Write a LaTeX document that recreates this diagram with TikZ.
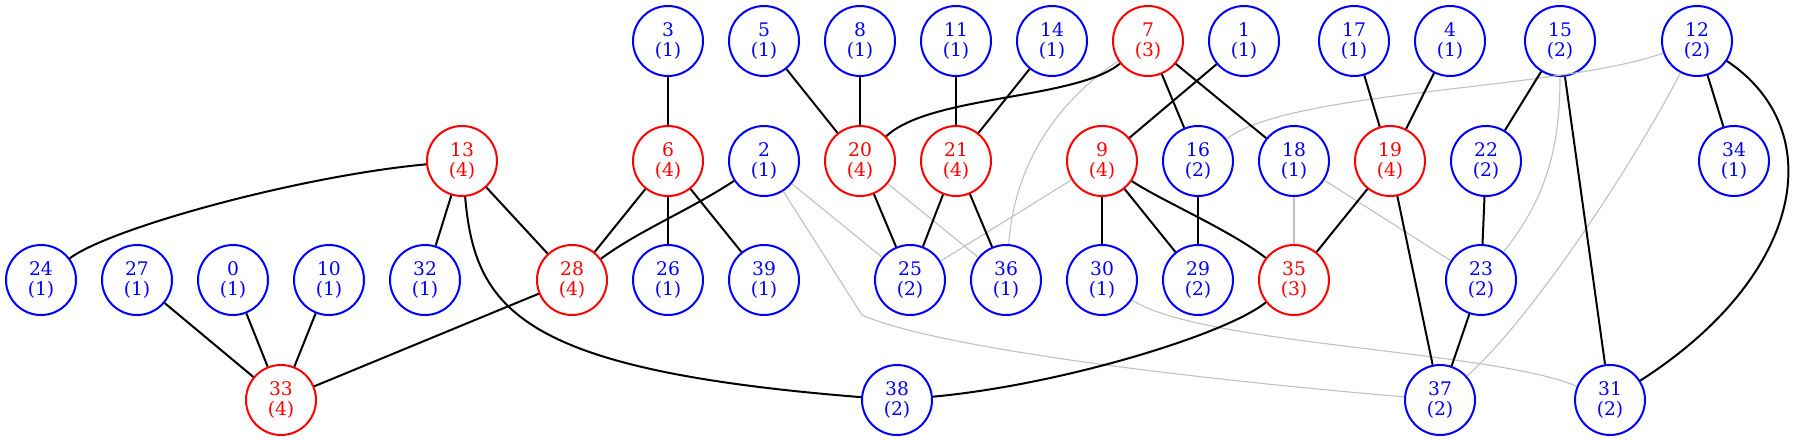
\documentclass[tikz,border=0pt]{standalone}
\usepackage{fontspec}
\setmainfont{DejaVu Serif}
\definecolor{gvblue}{RGB}{0,0,255}
\definecolor{gvred}{RGB}{255,0,0}
\definecolor{gvgray}{RGB}{192,192,192}
\begin{document}
\begin{tikzpicture}[x=1pt, y=-1pt,
  vb/.style={circle, draw=gvblue, line width=2pt, text=gvblue, minimum size=70pt,
             inner sep=0pt, align=center, font=\fontsize{18.7}{20}\selectfont},
  vr/.style={vb, draw=gvred, text=gvred},
  ln/.style={line width=2pt, black},
  lg/.style={line width=1.1pt, gvgray}]
\useasboundingbox (0,0) rectangle (1797,441);

\node[vb] (v3) at (668,41) {3\\(1)};
\node[vb] (v5) at (764,41) {5\\(1)};
\node[vb] (v8) at (860,41) {8\\(1)};
\node[vb] (v11) at (956,41) {11\\(1)};
\node[vb] (v14) at (1052,41) {14\\(1)};
\node[vr] (v7) at (1148,41) {7\\(3)};
\node[vb] (v1) at (1244,41) {1\\(1)};
\node[vb] (v17) at (1354,41) {17\\(1)};
\node[vb] (v4) at (1450,41) {4\\(1)};
\node[vb] (v15) at (1560,41) {15\\(2)};
\node[vb] (v12) at (1697,41) {12\\(2)};

\node[vr] (v13) at (462,161) {13\\(4)};
\node[vr] (v6) at (668,161) {6\\(4)};
\node[vb] (v2) at (764,161) {2\\(1)};
\node[vr] (v20) at (860,161) {20\\(4)};
\node[vr] (v21) at (956,161) {21\\(4)};
\node[vr] (v9) at (1102,161) {9\\(4)};
\node[vb] (v16) at (1198,161) {16\\(2)};
\node[vb] (v18) at (1294,161) {18\\(1)};
\node[vr] (v19) at (1390,161) {19\\(4)};
\node[vb] (v22) at (1486,161) {22\\(2)};
\node[vb] (v34) at (1734,161) {34\\(1)};

\node[vb] (v24) at (41,280) {24\\(1)};
\node[vb] (v27) at (137,280) {27\\(1)};
\node[vb] (v0) at (233,280) {0\\(1)};
\node[vb] (v10) at (329,280) {10\\(1)};
\node[vb] (v32) at (425,280) {32\\(1)};
\node[vr] (v28) at (572,280) {28\\(4)};
\node[vb] (v26) at (668,280) {26\\(1)};
\node[vb] (v39) at (764,280) {39\\(1)};
\node[vb] (v25) at (910,280) {25\\(2)};
\node[vb] (v36) at (1006,280) {36\\(1)};
\node[vb] (v30) at (1102,280) {30\\(1)};
\node[vb] (v29) at (1198,280) {29\\(2)};
\node[vr] (v35) at (1294,280) {35\\(3)};
\node[vb] (v23) at (1481,280) {23\\(2)};

\node[vr] (v33) at (281,400) {33\\(4)};
\node[vb] (v38) at (897,400) {38\\(2)};
\node[vb] (v37) at (1440,400) {37\\(2)};
\node[vb] (v31) at (1610,400) {31\\(2)};

\coordinate (b2) at (862,315);

\draw[lg] (v2) -- (v25);
\draw[lg] (v2) -- (b2) .. controls (930,345) and (1150,375) .. (v37);
\draw[lg] (v20) -- (v36);
\draw[lg] (v7) .. controls (1060,100) and (1015,160) .. (v36);
\draw[lg] (v9) -- (v25);
\draw[lg] (v12) .. controls (1560,90) and (1290,90) .. (v16);
\draw[lg] (v18) -- (v35);
\draw[lg] (v18) -- (v23);
\draw[lg] (v30) .. controls (1200,345) and (1490,350) .. (v31);
\draw[lg] (v15) .. controls (1560,150) and (1545,200) .. (v23);
\draw[lg] (v12) .. controls (1630,170) and (1530,320) .. (v37);

\draw[ln] (v13) .. controls (300,176) and (110,228) .. (v24);
\draw[ln] (v13) -- (v32);
\draw[ln] (v13) -- (v28);
\draw[ln] (v13) .. controls (475,310) and (520,370) .. (v38);
\draw[ln] (v27) -- (v33);
\draw[ln] (v0) -- (v33);
\draw[ln] (v10) -- (v33);
\draw[ln] (v28) -- (v33);
\draw[ln] (v3) -- (v6);
\draw[ln] (v6) -- (v28);
\draw[ln] (v6) -- (v26);
\draw[ln] (v6) -- (v39);
\draw[ln] (v2) .. controls (690,210) and (640,230) .. (v28);
\draw[ln] (v5) -- (v20);
\draw[ln] (v8) -- (v20);
\draw[ln] (v7) .. controls (1075,100) and (930,95) .. (v20);
\draw[ln] (v20) -- (v25);
\draw[ln] (v11) -- (v21);
\draw[ln] (v14) -- (v21);
\draw[ln] (v21) -- (v25);
\draw[ln] (v21) -- (v36);
\draw[ln] (v1) -- (v9);
\draw[ln] (v7) -- (v16);
\draw[ln] (v7) -- (v18);
\draw[ln] (v9) -- (v30);
\draw[ln] (v9) -- (v29);
\draw[ln] (v9) .. controls (1160,200) and (1230,230) .. (v35);
\draw[ln] (v16) -- (v29);
\draw[ln] (v35) .. controls (1225,335) and (1060,385) .. (v38);
\draw[ln] (v19) -- (v35);
\draw[ln] (v17) -- (v19);
\draw[ln] (v4) -- (v19);
\draw[ln] (v19) -- (v37);
\draw[ln] (v15) -- (v22);
\draw[ln] (v22) -- (v23);
\draw[ln] (v15) -- (v31);
\draw[ln] (v23) -- (v37);
\draw[ln] (v12) -- (v34);
\draw[ln] (v12) .. controls (1830,130) and (1805,275) .. (v31);
\end{tikzpicture}
\end{document}
